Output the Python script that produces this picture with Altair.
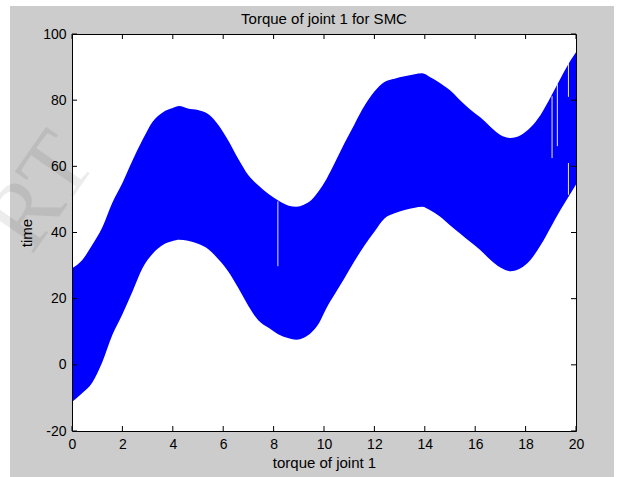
import altair as alt
import pandas as pd

# sampled envelope of the SMC torque band
t_vals = [0.0, 0.4, 0.8, 1.2, 1.6, 2.0, 2.4, 2.8, 3.2, 3.6, 4.0, 4.25, 4.6, 5.0,
          5.4, 5.8, 6.2, 6.6, 7.0, 7.4, 7.8, 8.2, 8.6, 8.9, 9.2, 9.5, 9.8, 10.1,
          10.4, 10.8, 11.2, 11.6, 12.0, 12.4, 12.8, 13.2, 13.6, 13.9, 14.2, 14.6,
          15.0, 15.4, 15.8, 16.2, 16.6, 17.0, 17.4, 17.8, 18.2, 18.6, 19.0, 19.4,
          19.8, 20.0]
upper_vals = [29.2, 31.6, 36.2, 41.5, 49.0, 55.0, 61.8, 68.0, 73.5, 76.3, 77.6, 78.2,
              77.5, 77.0, 75.8, 72.6, 67.8, 62.2, 57.3, 54.2, 51.6, 49.6, 48.1, 47.8,
              48.4, 49.8, 52.6, 56.2, 60.6, 66.8, 72.6, 78.2, 82.6, 85.5, 86.5, 87.2,
              87.8, 88.1, 87.0, 85.2, 83.0, 80.0, 77.2, 74.8, 72.0, 69.5, 68.6, 69.4,
              71.8, 75.6, 81.0, 86.8, 92.2, 94.5]
lower_vals = [-11.2, -8.6, -5.4, 0.8, 9.0, 15.3, 22.2, 29.3, 33.6, 36.2, 37.4, 37.8,
              37.5, 36.6, 35.0, 32.0, 28.2, 23.2, 17.8, 13.4, 11.2, 9.2, 8.0, 7.6,
              8.2, 9.8, 12.6, 17.2, 21.0, 26.0, 31.2, 36.0, 40.2, 44.2, 45.8, 46.8,
              47.5, 47.8, 46.8, 44.8, 42.2, 39.7, 37.2, 34.7, 31.8, 29.4, 28.3, 29.2,
              31.8, 36.2, 41.6, 47.0, 52.0, 54.5]

# thin dropouts inside the band
gap_t = [8.17, 19.05, 19.26, 19.70, 19.70]
gap_top = [49.4, 81.2, 84.8, 91.3, 61.0]
gap_bottom = [29.8, 62.5, 66.1, 81.0, 51.4]

x_ticks = list(range(0, 21, 2))
y_ticks = list(range(-20, 101, 20))

W, H = 504, 397
LEFT, TOP = 72, 34
PANEL_TOP = 6
FONT = "Liberation Sans"

band_df = pd.DataFrame({"t": t_vals, "upper": upper_vals, "lower": lower_vals})
gap_df = pd.DataFrame({"t": gap_t, "top": gap_top, "bottom": gap_bottom})
xt_df = pd.DataFrame({"v": x_ticks})
yt_df = pd.DataFrame({"v": y_ticks})
one = pd.DataFrame({"k": [0]})

x_scale = alt.Scale(domain=[0, 20], nice=False, zero=False)
y_scale = alt.Scale(domain=[-20, 100], nice=False, zero=False)

# grey figure panel and white axes box
figure_bg = alt.Chart(one).mark_rect(color="#cccccc").encode(
    x=alt.value(10 - LEFT), x2=alt.value(614 - LEFT),
    y=alt.value(PANEL_TOP - TOP), y2=alt.value(H + 60),
)
axes_bg = alt.Chart(one).mark_rect(color="white").encode(
    x=alt.value(0), x2=alt.value(W), y=alt.value(0), y2=alt.value(H)
)

bottom_axis = alt.Axis(
    values=x_ticks, labelExpr="'' + datum.value", ticks=False, tickSize=0,
    labelPadding=6, labelFont=FONT, labelFontSize=14, labelColor="black",
    labelFlush=False, labelOverlap=False, domainColor="black", domainWidth=1,
    grid=False, title="torque of joint 1", titleFont=FONT, titleFontSize=15,
    titleFontWeight="normal", titleColor="black", titlePadding=4, zindex=1,
)
left_axis = alt.Axis(
    values=y_ticks, labelExpr="'' + datum.value", ticks=False, tickSize=0,
    labelPadding=6, labelFont=FONT, labelFontSize=14, labelColor="black",
    labelFlush=False, labelOverlap=False, domainColor="black", domainWidth=1,
    grid=False, title="time", titleFont=FONT, titleFontSize=15,
    titleFontWeight="normal", titleColor="black", titlePadding=8, zindex=1,
)
top_axis = alt.Axis(orient="top", labels=False, ticks=False, tickSize=0,
                    title=None, grid=False, domainColor="black", domainWidth=1,
                    zindex=1)
right_axis = alt.Axis(orient="right", labels=False, ticks=False, tickSize=0,
                      title=None, grid=False, domainColor="black",
                      domainWidth=1, zindex=1)

band = alt.Chart(band_df).mark_area(color="#0000ff", interpolate="monotone").encode(
    x=alt.X("t:Q", scale=x_scale, axis=bottom_axis),
    y=alt.Y("upper:Q", scale=y_scale, axis=left_axis),
    y2="lower:Q",
)

gaps = alt.Chart(gap_df).mark_rule(color="#e8e8ff", strokeWidth=1).encode(
    x=alt.X("t:Q", scale=x_scale, axis=top_axis),
    y=alt.Y("top:Q", scale=y_scale, axis=right_axis),
    y2="bottom:Q",
)

# inward tick marks on all four sides
TL = 5
tick_bottom = alt.Chart(xt_df).mark_rule(color="black").encode(
    x=alt.X("v:Q", scale=x_scale, axis=None), y=alt.value(H), y2=alt.value(H - TL))
tick_top = alt.Chart(xt_df).mark_rule(color="black").encode(
    x=alt.X("v:Q", scale=x_scale, axis=None), y=alt.value(0), y2=alt.value(TL))
tick_left = alt.Chart(yt_df).mark_rule(color="black").encode(
    y=alt.Y("v:Q", scale=y_scale, axis=None), x=alt.value(0), x2=alt.value(TL))
tick_right = alt.Chart(yt_df).mark_rule(color="black").encode(
    y=alt.Y("v:Q", scale=y_scale, axis=None), x=alt.value(W), x2=alt.value(W - TL))

watermark = alt.Chart(one).mark_text(
    text="RT", font="Liberation Serif", fontSize=95, angle=305, color="black",
    opacity=0.07, align="center", baseline="middle",
).encode(x=alt.value(41 - LEFT), y=alt.value(192 - TOP))

# the title sits above the grey panel's top edge unless pulled back down
TITLE_BOTTOM = 26.5
chart = alt.layer(
    figure_bg, axes_bg, band, gaps, tick_bottom, tick_top, tick_left,
    tick_right, watermark,
).resolve_axis(
    x="independent", y="independent"
).properties(
    width=W, height=H,
    title=alt.Title("Torque of joint 1 for SMC", font=FONT, fontSize=15,
                    fontWeight="normal", color="black",
                    offset=PANEL_TOP - TITLE_BOTTOM,
                    anchor="middle", frame="group"),
    autosize=alt.AutoSizeParams(type="none"),
    padding={"left": LEFT, "top": TOP, "right": 618 - LEFT - W,
             "bottom": 477 - TOP - H},
    background="white",
).configure_view(strokeWidth=0)

chart.save("out.html", embed_options={"renderer": "svg", "actions": False})
